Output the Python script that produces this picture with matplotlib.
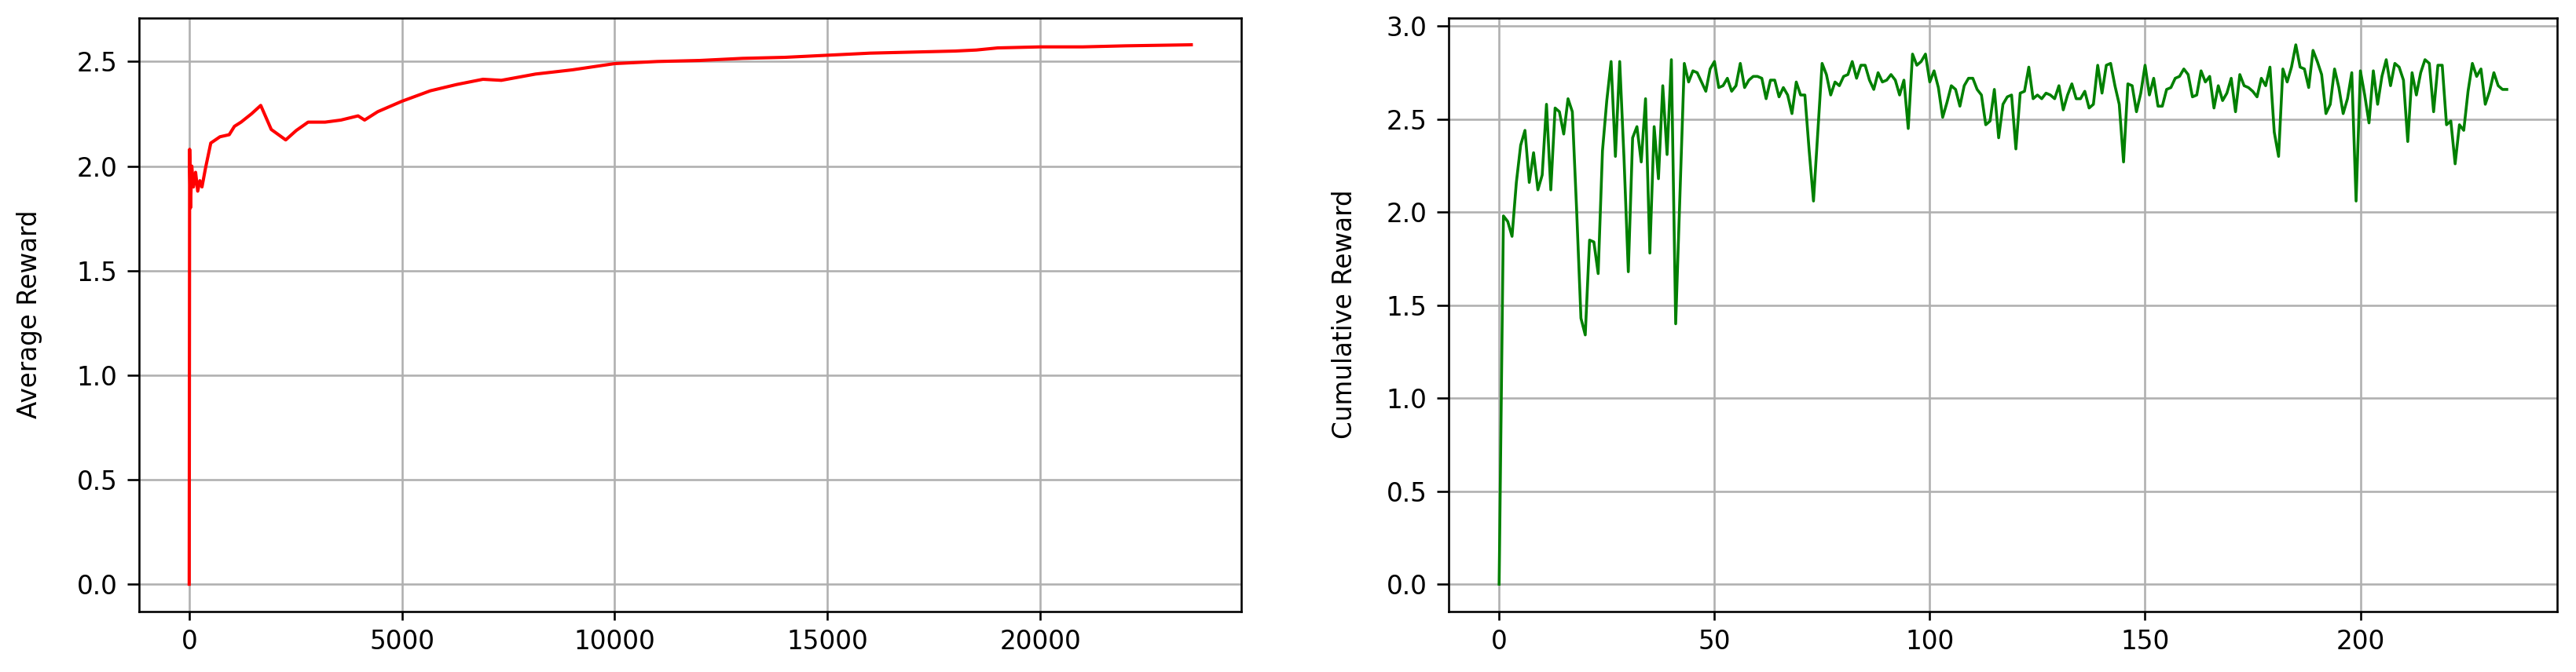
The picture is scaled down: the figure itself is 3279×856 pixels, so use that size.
import matplotlib
matplotlib.use("Agg")
import matplotlib.pyplot as plt

# ─── Data ────────────────────────────────────────────────────
# left panel: running average reward over steps
avg_steps = [0, 10, 30, 60, 100, 150, 200, 250, 300, 383, 507, 723, 940,
             1063, 1218, 1465, 1681, 1928, 2268, 2515, 2794, 3195, 3566,
             3968, 4122, 4431, 5000, 5668, 6286, 6904, 7336, 8140, 9000,
             10000, 11000, 12000, 13000, 14000, 15000, 16000, 17000, 18000,
             18500, 19000, 20000, 21000, 22000, 23550]
avg_reward = [0.0, 2.08, 1.80, 2.00, 1.90, 1.97, 1.88, 1.93, 1.90, 1.99,
              2.11, 2.14, 2.15, 2.19, 2.21, 2.25, 2.29, 2.175, 2.125, 2.17,
              2.21, 2.21, 2.22, 2.24, 2.22, 2.26, 2.31, 2.36, 2.39, 2.415,
              2.41, 2.44, 2.46, 2.49, 2.50, 2.505, 2.515, 2.52, 2.53, 2.54,
              2.545, 2.55, 2.555, 2.565, 2.57, 2.57, 2.575, 2.58]

# right panel: cumulative reward per episode
episode_reward = [
    0.0, 1.98, 1.95, 1.87, 2.16, 2.36, 2.44, 2.16, 2.32, 2.12,
    2.20, 2.58, 2.12, 2.56, 2.54, 2.42, 2.61, 2.54, 2.01, 1.43,
    1.34, 1.85, 1.84, 1.67, 2.33, 2.60, 2.81, 2.30, 2.81, 2.29,
    1.68, 2.40, 2.46, 2.27, 2.61, 1.78, 2.46, 2.18, 2.68, 2.31,
    2.82, 1.40, 2.10, 2.80, 2.70, 2.76, 2.75, 2.70, 2.65, 2.77,
    2.81, 2.67, 2.68, 2.72, 2.65, 2.68, 2.80, 2.67, 2.71, 2.73,
    2.73, 2.72, 2.61, 2.71, 2.71, 2.62, 2.67, 2.63, 2.53, 2.70,
    2.63, 2.63, 2.33, 2.06, 2.43, 2.80, 2.74, 2.63, 2.70, 2.68,
    2.73, 2.74, 2.81, 2.72, 2.79, 2.79, 2.71, 2.66, 2.75, 2.70,
    2.71, 2.74, 2.71, 2.63, 2.71, 2.45, 2.85, 2.79, 2.81, 2.85,
    2.70, 2.76, 2.67, 2.51, 2.59, 2.68, 2.66, 2.57, 2.68, 2.72,
    2.72, 2.66, 2.63, 2.47, 2.49, 2.66, 2.40, 2.58, 2.62, 2.63,
    2.34, 2.64, 2.65, 2.78, 2.61, 2.63, 2.61, 2.64, 2.63, 2.61,
    2.68, 2.55, 2.63, 2.69, 2.61, 2.61, 2.65, 2.56, 2.58, 2.79,
    2.64, 2.79, 2.80, 2.68, 2.58, 2.27, 2.69, 2.68, 2.54, 2.64,
    2.79, 2.63, 2.72, 2.57, 2.57, 2.66, 2.67, 2.72, 2.73, 2.77,
    2.74, 2.62, 2.63, 2.76, 2.70, 2.73, 2.56, 2.68, 2.60, 2.64,
    2.72, 2.54, 2.74, 2.68, 2.67, 2.65, 2.62, 2.72, 2.68, 2.78,
    2.43, 2.30, 2.77, 2.70, 2.78, 2.90, 2.78, 2.77, 2.67, 2.87,
    2.81, 2.74, 2.53, 2.58, 2.77, 2.67, 2.53, 2.61, 2.75, 2.06,
    2.76, 2.63, 2.48, 2.76, 2.58, 2.73, 2.82, 2.68, 2.80, 2.78,
    2.71, 2.38, 2.75, 2.63, 2.75, 2.82, 2.80, 2.54, 2.79, 2.79,
    2.47, 2.49, 2.26, 2.47, 2.44, 2.65, 2.80, 2.73, 2.77, 2.58,
    2.65, 2.75, 2.68, 2.66, 2.66,
]
episodes = list(range(len(episode_reward)))

# ─── Style (original was rendered large, so scale everything) ─
S = 2.35
plt.rcParams.update({
    "font.family": "DejaVu Sans",
    "font.size": 10 * S,
    "axes.linewidth": 0.8 * S,
    "xtick.major.size": 3.5 * S,
    "ytick.major.size": 4.6 * S,
    "xtick.major.width": 0.8 * S,
    "ytick.major.width": 0.8 * S,
    "xtick.major.pad": 3.5 * S,
    "ytick.major.pad": 3.8 * S,
    "grid.linewidth": 0.8 * S,
    "grid.color": "#b0b0b0",
})

fig = plt.figure(figsize=(32.79, 8.56), dpi=100)
ax1 = fig.add_axes([0.0540, 0.0905, 0.4279, 0.8830])
ax2 = fig.add_axes([0.5624, 0.0905, 0.4303, 0.8830])

ax1.plot(avg_steps, avg_reward, color="red", linewidth=1.25 * S)
ax1.set_ylabel("Average Reward")
ax1.yaxis.set_label_coords(-0.088, 0.5)
ax1.set_xticks([0, 5000, 10000, 15000, 20000])
ax1.grid(True)

ax2.plot(episodes, episode_reward, color="green", linewidth=1.1 * S)
ax2.set_ylabel("Cumulative Reward")
ax2.yaxis.set_label_coords(-0.082, 0.5)
ax2.set_xticks([0, 50, 100, 150, 200])
ax2.grid(True)

fig.savefig("out.png", dpi=100)
plt.close(fig)
